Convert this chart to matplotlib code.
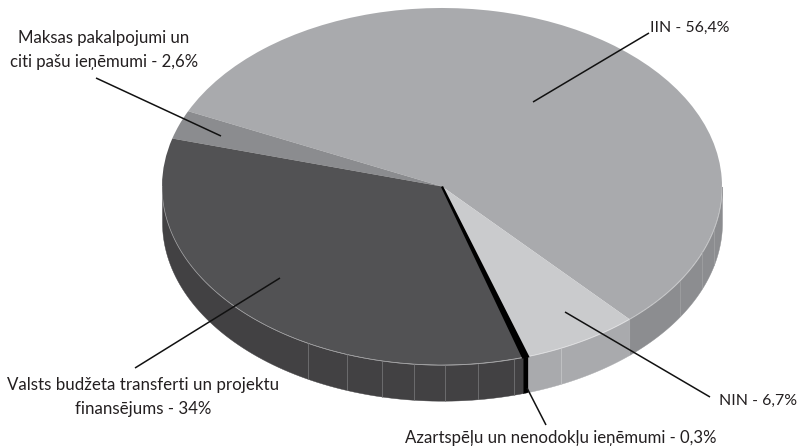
import numpy as np
import matplotlib
matplotlib.use("Agg")
import matplotlib.pyplot as plt

plt.rcParams['font.family'] = ['Lato', 'DejaVu Sans']

# shares in percent, counter-clockwise from the IIN slice
categories = ["IIN", "Maksas", "Valsts", "Azartspelu", "NIN"]
values = [56.4, 2.6, 34.0, 0.3, 6.7]
top_colors = ["#a9aaad", "#8b8c8f", "#525254", "#000000", "#cacbcd"]
side_colors = ["#8c8d90", "#6f7072", "#424143", "#000000", "#a9aaad"]
rim_colors = ["#bcbdbf", "#9a9b9d", "#a5a5a7", "#000000", "#dcdcde"]
start_angle = -48

# thin vertical seams on the rim (degrees), with their colours
seams = [241.4, 250.1, 257.6, 264.3, 270.6, 277.4, 284.9, 295.2, 328.2, 338.3, 346]
seam_colors = ["#7c7c7e"] * 7 + ["#c9cacc"] + ["#a2a3a5"] * 3

# label text, anchor x/y in pixels, alignment, font size
labels = [
    ("IIN - 56,4%", 650, 28, "left", 11.4),
    ("Maksas pakalpojumi un\nciti pašu ieņēmumi - 2,6%", 104, 50, "center", 12.1),
    ("Valsts budžeta transferti un projektu\nfinansējums - 34%", 143, 397, "center", 12.2),
    ("Azartspēļu un nenodokļu ieņēmumi - 0,3%", 561, 438, "center", 12.1),
    ("NIN - 6,7%", 719, 401, "left", 11.4),
]
# leader lines in pixels: x0, y0, x1, y1
leaders = [
    (533, 102, 649, 33),
    (96, 78, 221, 136),
    (280, 278, 135, 368),
    (527, 388, 546, 425),
    (565, 312, 710, 397),
]

depth = 0.2

fig = plt.figure(figsize=(8, 4.48), dpi=100)

# pie axes: x from 162 to 722 px, y from the top of the pie down past the rim
rx, ry = 280, 178.5
left, top = 162, 8
height = ry * (2 + depth + 0.02)
ax = fig.add_axes([left / 800, 1 - (top + height) / 448, 2 * rx / 800, height / 448])

# rim of each slice, visible only on the front half
edges = start_angle + np.cumsum([0] + values) * 3.6
arcs = []
for i in range(len(values)):
    a0, a1 = edges[i], edges[i + 1]
    for shift in (0, 360, -360):
        lo = max(a0 + shift, 180)
        hi = min(a1 + shift, 360)
        if hi <= lo:
            continue
        t = np.radians(np.linspace(lo, hi, 80))
        x = np.cos(t)
        y = np.sin(t)
        ax.fill_between(x, y, y - depth, color=side_colors[i], lw=0.3, zorder=1)
        arcs.append((x, y, rim_colors[i]))

wedges, _ = ax.pie(values, colors=top_colors, startangle=start_angle, counterclock=True,
                   radius=1, center=(0, 0), wedgeprops={"linewidth": 0}, frame=True)
# the smallest slice is drawn with a heavy black outline
wedges[3].set_edgecolor("#000000")
wedges[3].set_linewidth(1.6)
wedges[3].set_zorder(5)
ax.set_aspect("auto")
ax.set_xlim(-1, 1)
ax.set_ylim(-1 - depth - 0.02, 1)
ax.axis("off")

# pale line along the front edge of the top face and the seams
for x, y, col in arcs:
    ax.plot(x, y, color=col, lw=0.5, zorder=3)
for s, col in zip(seams, seam_colors):
    c, v = np.cos(np.radians(s)), np.sin(np.radians(s))
    ax.plot([c, c], [v, v - depth], color=col, lw=0.5, zorder=3)

# overlay in pixel coordinates for labels and leaders
ov = fig.add_axes([0, 0, 1, 1])
ov.set_xlim(0, 800)
ov.set_ylim(448, 0)
ov.axis("off")
ov.patch.set_alpha(0)

for x0, y0, x1, y1 in leaders:
    ov.plot([x0, x1], [y0, y1], color="#111111", lw=1.1, solid_capstyle="butt")

for txt, x, y, ha, size in labels:
    ov.text(x, y, txt, ha=ha, va="center", fontsize=size, color="#231f20",
            linespacing=1.55)

fig.savefig("out.png", dpi=100, facecolor="white")
